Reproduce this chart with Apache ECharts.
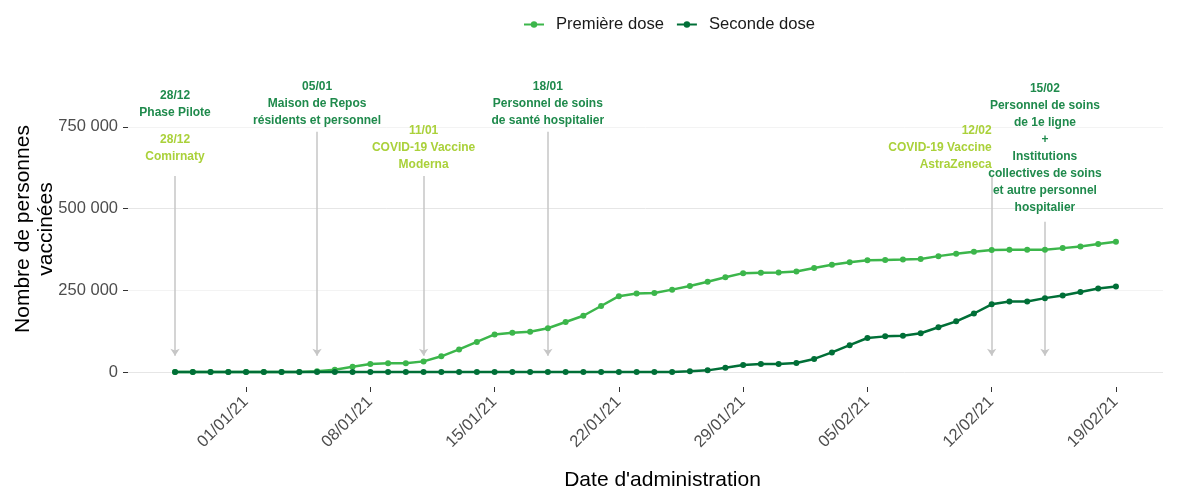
<!DOCTYPE html>
<html>
<head>
<meta charset="utf-8">
<script src="https://cdn.jsdelivr.net/npm/echarts@6/dist/echarts.min.js"></script>
<style>
html,body{margin:0;padding:0;background:#fff;}
#chart{width:1186px;height:486px;}
</style>
</head>
<body>
<div id="chart"></div>
<script>
const dates = [
  '2020-12-28','2020-12-29','2020-12-30','2020-12-31',
  '2021-01-01','2021-01-02','2021-01-03','2021-01-04','2021-01-05','2021-01-06','2021-01-07',
  '2021-01-08','2021-01-09','2021-01-10','2021-01-11','2021-01-12','2021-01-13','2021-01-14',
  '2021-01-15','2021-01-16','2021-01-17','2021-01-18','2021-01-19','2021-01-20','2021-01-21',
  '2021-01-22','2021-01-23','2021-01-24','2021-01-25','2021-01-26','2021-01-27','2021-01-28',
  '2021-01-29','2021-01-30','2021-01-31','2021-02-01','2021-02-02','2021-02-03','2021-02-04',
  '2021-02-05','2021-02-06','2021-02-07','2021-02-08','2021-02-09','2021-02-10','2021-02-11',
  '2021-02-12','2021-02-13','2021-02-14','2021-02-15','2021-02-16','2021-02-17','2021-02-18',
  '2021-02-19'
];
const premiereDose = [
  0,0,0,0,0,0,0,0,2000,7000,16000,
  24500,26500,26500,32500,48000,69000,92000,
  115000,120000,123000,134000,153000,172000,202000,
  232000,240000,242000,252000,263000,276000,290000,
  302500,303500,304500,307500,318000,328000,336000,
  342000,343000,344000,346000,354500,362000,368000,
  373000,374000,374000,374000,379000,384000,391500,
  398500
];
const secondeDose = [
  0,0,0,0,0,0,0,0,0,0,0,
  0,0,0,0,0,0,0,
  0,0,0,0,0,0,0,
  0,0,0,0,2000,5000,13000,
  21500,24500,24500,27500,40000,60000,82000,
  104000,109000,111000,118500,137000,155000,179000,
  207000,216000,216000,226000,234000,245000,255500,
  261500
];
const xTickDates = ['2021-01-01','2021-01-08','2021-01-15','2021-01-22','2021-01-29','2021-02-05','2021-02-12','2021-02-19'];
const yTickValues = [0, 250000, 500000, 750000];

// annotations (text)
const annDates  = ['2020-12-28','2020-12-28','2021-01-05','2021-01-11','2021-01-18','2021-02-12','2021-02-15'];
const annLabels = [
  '28/12\nPhase Pilote',
  '28/12\nComirnaty',
  '05/01\nMaison de Repos\nrésidents et personnel',
  '11/01\nCOVID-19 Vaccine\nModerna',
  '18/01\nPersonnel de soins\nde santé hospitalier',
  '12/02\nCOVID-19 Vaccine\nAstraZeneca',
  '15/02\nPersonnel de soins\nde 1e ligne\n+\nInstitutions\ncollectives de soins\net autre personnel\nhospitalier'
];
const annKinds  = ['phase','vaccin','phase','vaccin','phase','vaccin','phase'];
const annTextY  = [820000, 685000, 820000, 685000, 820000, 685000, 686000];
const annAlign  = ['center','center','center','center','center','right','center'];
// annotations (arrows)
const arrowDates = ['2020-12-28','2021-01-05','2021-01-11','2021-01-18','2021-02-12','2021-02-15'];
const arrowStart = [600000, 735000, 600000, 735000, 600000, 460000];
const arrowEnd   = [50000, 50000, 50000, 50000, 50000, 50000];

const COL_PREMIERE = '#3cb64b';
const COL_SECONDE = '#006f37';
const COL_PHASE = '#1f8a4c';
const COL_VACCIN = '#aad13a';
const FONT = '"Liberation Sans", Arial, sans-serif';

// x positions are day numbers counted from 01/01/2021 (UTC arithmetic, no timezone issue)
const DAY = 86400000;
const ORIGIN = Date.UTC(2021, 0, 1);
function toDay(s){ const p = s.split('-'); return Math.round((Date.UTC(+p[0], +p[1]-1, +p[2]) - ORIGIN) / DAY); }
function pad(n){ return (n<10?'0':'')+n; }
function fmtDay(v){ const d = new Date(ORIGIN + Math.round(v)*DAY); return pad(d.getUTCDate())+'/'+pad(d.getUTCMonth()+1)+'/'+pad(d.getUTCFullYear()%100); }
function fmtNum(v){ return String(v).replace(/\B(?=(\d{3})+(?!\d))/g, ' '); }
const xMin = toDay(dates[0]) - 2.65;
const xMax = toDay(dates[dates.length-1]) + 2.65;

const chart = echarts.init(document.getElementById('chart'), null, {renderer:'canvas'});
const option = {
  animation: false,
  backgroundColor: '#ffffff',
  textStyle: { fontFamily: FONT },
  legend: {
    left: 518, top: 11,
    itemWidth: 20, itemHeight: 8, itemGap: 12,
    textStyle: { fontSize: 16.6, color: '#1a1a1a', fontFamily: FONT, padding: [0,0,0,7] },
    data: ['Première dose', 'Seconde dose']
  },
  grid: { left: 128, right: 23, top: 86, bottom: 114, containLabel: false, outerBoundsMode: 'none' },
  xAxis: {
    type: 'value',
    min: xMin, max: xMax,
    offset: 15,
    name: "Date d'administration",
    nameLocation: 'middle',
    nameGap: 83,
    nameMoveOverlap: false,
    nameTextStyle: { fontSize: 21, color: '#000', fontFamily: FONT, padding: [0,0,0,34] },
    axisLine: { show: false, onZero: false },
    axisTick: { show: true, customValues: xTickDates.map(toDay), length: 5, lineStyle: { color: '#333', width: 1 } },
    axisLabel: {
      customValues: xTickDates.map(toDay),
      formatter: function(v){ return fmtDay(v); },
      rotate: 45, margin: 0, align: 'right', verticalAlign: 'top', padding: [0, 9, 0, 0],
      fontSize: 16.5, color: '#4d4d4d', fontFamily: FONT
    },
    splitLine: { show: false }
  },
  yAxis: {
    type: 'value',
    min: 0, max: 875000, interval: 125000,
    name: 'Nombre de personnes\nvaccinées',
    nameLocation: 'middle',
    nameGap: 70,
    nameMoveOverlap: false,
    nameTextStyle: { fontSize: 21, color: '#000', fontFamily: FONT, lineHeight: 23, align: 'center' },
    axisLine: { show: false, onZero: false },
    axisTick: { show: true, customValues: yTickValues, length: 5, lineStyle: { color: '#333', width: 1 } },
    axisLabel: {
      customValues: yTickValues,
      formatter: function(v){ return fmtNum(v); },
      margin: 10, fontSize: 16.5, color: '#4d4d4d', fontFamily: FONT
    },
    splitLine: { show: true, lineStyle: { color: ['#e6e6e6', '#f3f3f3'], width: 1 } }
  },
  series: [
    {
      name: 'Première dose',
      type: 'line',
      clip: false,
      data: dates.map((d,i) => [toDay(d), premiereDose[i]]),
      symbol: 'circle', symbolSize: 6,
      lineStyle: { color: COL_PREMIERE, width: 2.5 },
      itemStyle: { color: COL_PREMIERE },
      z: 3,
      markLine: {
        silent: true,
        symbol: ['none', 'arrow'],
        symbolSize: [7, 7],
        label: { show: false },
        lineStyle: { color: '#c6c6c6', width: 1.5, type: 'solid' },
        data: arrowDates.map((d,i) => [
          { coord: [toDay(d), arrowStart[i]] },
          { coord: [toDay(d), arrowEnd[i]] }
        ]),
        z: 1
      },
      markPoint: {
        silent: true,
        symbol: 'circle',
        symbolSize: 0,
        data: annDates.map((d,i) => ({
          coord: [toDay(d), annTextY[i]],
          itemStyle: { color: 'rgba(0,0,0,0)' },
          label: {
            show: true,
            position: 'inside',
            formatter: annLabels[i],
            align: annAlign[i],
            verticalAlign: 'middle',
            color: annKinds[i] === 'phase' ? COL_PHASE : COL_VACCIN,
            fontWeight: 'bold',
            fontSize: 12,
            lineHeight: 17,
            fontFamily: FONT
          }
        }))
      }
    },
    {
      name: 'Seconde dose',
      type: 'line',
      clip: false,
      data: dates.map((d,i) => [toDay(d), secondeDose[i]]),
      symbol: 'circle', symbolSize: 6,
      lineStyle: { color: COL_SECONDE, width: 2.5 },
      itemStyle: { color: COL_SECONDE },
      z: 4
    }
  ]
};
chart.setOption(option);
</script>
</body>
</html>
